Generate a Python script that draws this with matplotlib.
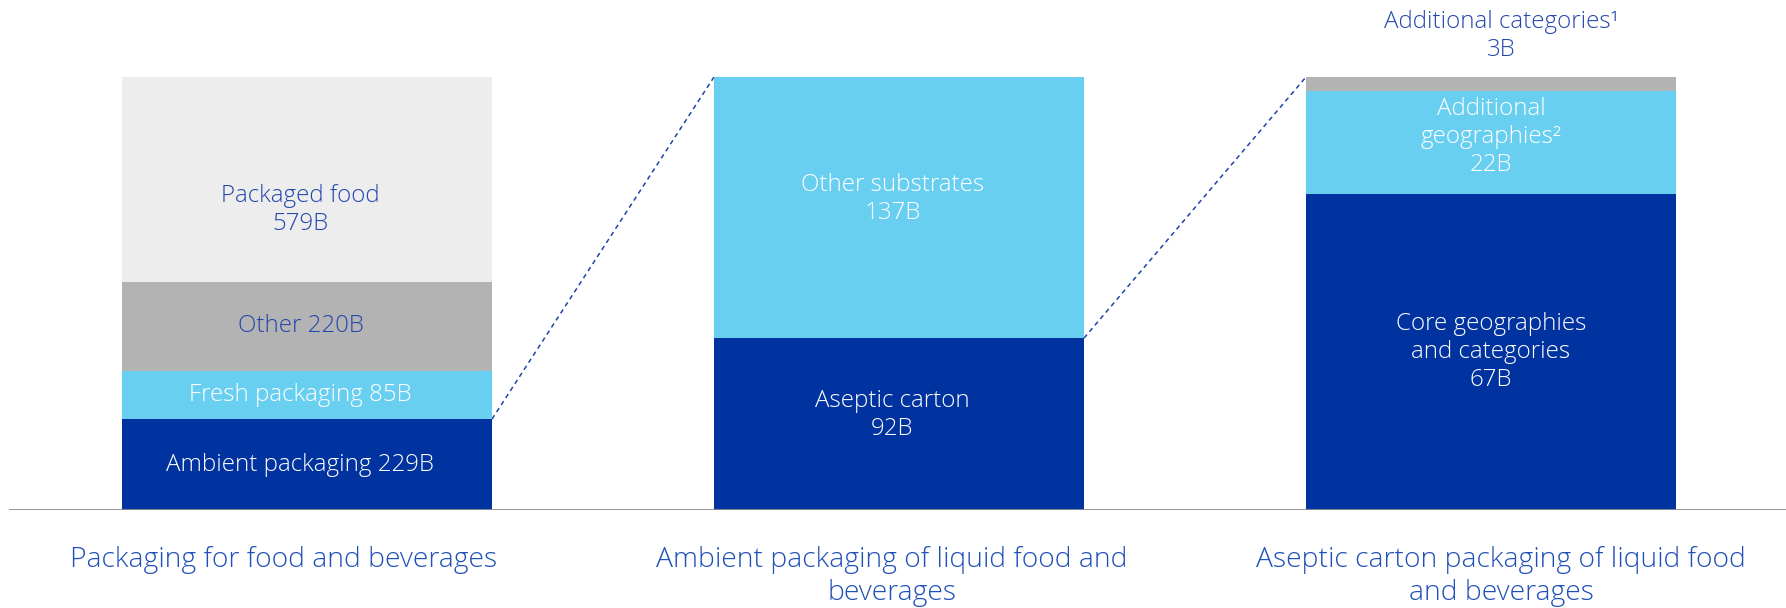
import numpy as np
import matplotlib.pyplot as plt

plt.rcParams['font.family'] = ['Open Sans', 'DejaVu Sans']

# titles under each bar
titles = ['Packaging for food and beverages',
          'Ambient packaging of liquid food and\nbeverages',
          'Aseptic carton packaging of liquid food\nand beverages']

# segments bottom -> top: label, value (B), share of bar height as drawn
seg_labels = [
    ['Ambient packaging', 'Fresh packaging', 'Other', 'Packaged food'],
    ['Aseptic carton', 'Other substrates'],
    ['Core geographies\nand categories', 'Additional\ngeographies\u00b2', 'Additional categories\u00b9'],
]
seg_values = [
    [229, 85, 220, 579],
    [92, 137],
    [67, 22, 3],
]
seg_shares = [
    [0.210, 0.111, 0.206, 0.473],
    [0.397, 0.603],
    [0.730, 0.238, 0.032],
]

DARK = '#0033a0'
LIGHT = '#69cff1'
GREY = '#b3b3b3'
PALE = '#ededed'
TXT = '#2447ad'
seg_colors = [
    [DARK, LIGHT, GREY, PALE],
    [DARK, LIGHT],
    [DARK, LIGHT, GREY],
]
text_colors = [
    ['white', 'white', TXT, TXT],
    ['white', 'white'],
    ['white', 'white', TXT],
]
# label layout: single line "name valueB" or name and value on separate lines
one_line = [[True, True, True, False], [False, False], [False, False, False]]

W, H = 1786, 608
fig = plt.figure(figsize=(W / 100, H / 100), dpi=100)
base_px, top_px = 510, 77
spacing = 592
c0 = 307
ax = fig.add_axes([0, (H - base_px) / H, 1, (base_px - top_px) / H])
ax.set_xlim(-c0 / spacing, (W - c0) / spacing)
ax.set_ylim(0, 1)
ax.axis('off')

bw = 370 / spacing
x = np.arange(len(titles))
label_dx = [-0.011, -0.011, 0.0]

for i in range(len(titles)):
    bottom = 0
    for j, share in enumerate(seg_shares[i]):
        ax.bar(x[i], share, bw, bottom=bottom, color=seg_colors[i][j],
               edgecolor='none', zorder=2)
        if one_line[i][j]:
            lab = f'{seg_labels[i][j]} {seg_values[i][j]}B'
        else:
            lab = f'{seg_labels[i][j]}\n{seg_values[i][j]}B'
        yc = bottom + share / 2
        xc = x[i] + label_dx[i]
        if (i, j) == (0, 3):
            yc -= 0.07
        if (i, j) == (1, 0) or (i, j) == (1, 1):
            yc += 0.02
        if (i, j) == (2, 1):
            yc += 0.012
        if (i, j) == (2, 2):
            yc = 1.095
            xc += 0.018
        ax.text(xc, yc, lab, ha='center', va='center', fontsize=17.4,
                fontweight='light', color=text_colors[i][j], linespacing=1.22,
                zorder=3, clip_on=False)
        bottom += share

# dashed connectors: top of the expanded segment -> top of the next bar
for i in range(len(titles) - 1):
    ax.plot([x[i] + bw / 2, x[i + 1] - bw / 2], [seg_shares[i][0], 1.0],
            ls=(0, (3, 2.5)), color='#1f44a8', lw=1.1, zorder=1)

# baseline
ax.axhline(0, xmin=10 / W, xmax=1, color='#8c8c8c', lw=2, zorder=4)

title_dx = [-0.04, -0.012, 0.017]
for i, t in enumerate(titles):
    ax.text(x[i] + title_dx[i], -0.082, t, ha='center', va='top', fontsize=20.3,
            fontweight='light', color='#1f4fb8', linespacing=1.25, clip_on=False)

fig.savefig('out.png', dpi=100, facecolor='white')
